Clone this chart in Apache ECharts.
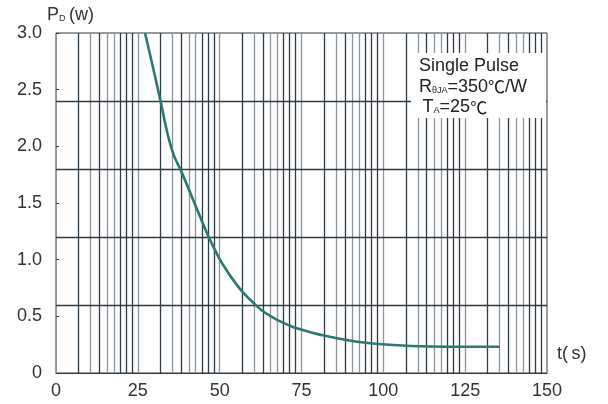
<!DOCTYPE html>
<html>
<head>
<meta charset="utf-8">
<script src="https://cdn.jsdelivr.net/npm/echarts@6/dist/echarts.min.js"></script>
<style>html,body{margin:0;padding:0;background:#fff}#c{width:608px;height:404px}</style>
</head>
<body>
<div id="c"></div>
<script>
// Curve: pulse power P_D (W) versus pulse time t (s)
const timeS = [27.2, 29.6, 32.0, 34.0, 36.0, 38.1, 41.45, 44.0, 46.5, 49.9, 51.8, 53.8, 57.0, 60.8, 63.0, 65.4, 68.5, 72.0, 76.5, 81.9, 91.9, 103, 114.2, 125.5, 135.6];
const powerW = [3.0, 2.70, 2.39, 2.12, 1.92, 1.79, 1.56, 1.38, 1.21, 1.01, 0.92, 0.835, 0.715, 0.605, 0.55, 0.505, 0.455, 0.41, 0.37, 0.33, 0.276, 0.247, 0.234, 0.232, 0.232];

// Axis ticks
const xTicks = [0, 25, 50, 75, 100, 125, 150];
const yTicks = [0, 0.5, 1.0, 1.5, 2.0, 2.5, 3.0];

// Chart-paper grid (in data units)
const hGridLines = [0.6, 1.2, 1.8, 2.4];
const segmentStarts = [0, 25, 50, 75, 100, 125];
const segmentOffsets = [6.87, 10.54, 13.23, 15.58, 17.66, 19.55, 21.39, 23.22];
const offsetShade = ['d', 'g', 'd', 'g', 'g', 'd', 'd', 'd'];

const DARK = '#2e3b45';
const GRAY = '#8d949a';

const vLines = [];
segmentStarts.forEach(function (s) {
  segmentOffsets.forEach(function (o, i) {
    vLines.push({ xAxis: s + o, lineStyle: { color: offsetShade[i] === 'd' ? DARK : GRAY } });
  });
  if (s > 0) vLines.push({ xAxis: s, lineStyle: { color: GRAY } });
});
const hLines = hGridLines.map(function (v) { return { yAxis: v, lineStyle: { color: DARK } }; });

const chart = echarts.init(document.getElementById('c'), null, { renderer: 'canvas' });
const FONT = 'Liberation Sans, Arial, sans-serif';
const CJK = 'Noto Sans CJK SC, sans-serif';

chart.setOption({
  animation: false,
  backgroundColor: '#fff',
  grid: { left: 56, right: 61, top: 33, bottom: 31, show: true, borderColor: DARK, borderWidth: 1, backgroundColor: 'transparent' },
  xAxis: {
    type: 'value', min: xTicks[0], max: xTicks[xTicks.length - 1], interval: 25,
    axisLine: { show: true, lineStyle: { color: DARK, width: 1 } },
    axisTick: { show: false },
    splitLine: { show: false },
    axisLabel: { color: '#333', fontSize: 18, fontFamily: FONT, margin: 9 }
  },
  yAxis: {
    type: 'value', min: yTicks[0], max: yTicks[yTicks.length - 1], interval: 0.5,
    axisLine: { show: true, lineStyle: { color: '#8d949a', width: 1 } },
    axisTick: { show: true, inside: true, length: 3, lineStyle: { color: DARK } },
    splitLine: { show: false },
    axisLabel: {
      color: '#333', fontSize: 18, fontFamily: FONT, margin: 14,
      formatter: function (v) { return v === 0 ? '0' : v.toFixed(1); }
    }
  },
  graphic: [
    {
      type: 'text', left: 47, top: 6, z: 20,
      style: {
        text: 'P{s|D}\u2009(w)', fill: '#333', font: '18px ' + FONT,
        rich: { s: { fontSize: 9, fontFamily: FONT, fill: '#333', padding: [7, 0, 0, 0] } }
      }
    },
    {
      type: 'text', left: 557, top: 345, z: 20,
      style: { text: 't(\u2009s)', fill: '#333', font: '18px ' + FONT }
    },
    {
      type: 'rect', z: 15, shape: { x: 411, y: 53, width: 135, height: 65 },
      style: { fill: '#fff' }
    },
    {
      type: 'text', left: 419, top: 56, z: 20,
      style: {
        text: 'Single Pulse\nR{s|\u03b8JA}=350{c|\u2103}/W\n\u2009T{s|A}=25{c|\u2103}',
        fill: '#222', font: '18px ' + FONT, lineHeight: 20.5,
        rich: {
          s: { fontSize: 9, fontFamily: FONT, fill: '#222', padding: [7, 0, 0, 0], lineHeight: 20.5 },
          c: { fontSize: 17, fontFamily: CJK, fill: '#222', lineHeight: 20.5 }
        }
      }
    }
  ],
  series: [
    {
      type: 'line', data: [], silent: true, z: 1,
      markLine: {
        silent: true, symbol: ['none', 'none'], animation: false,
        label: { show: false },
        lineStyle: { type: 'solid', width: 1.3 },
        data: vLines.concat(hLines)
      }
    },
    {
      type: 'line', z: 5,
      data: timeS.map(function (t, i) { return [t, powerW[i]]; }),
      smooth: 0.35, showSymbol: false,
      lineStyle: { color: '#2d7870', width: 2.6 }
    }
  ]
});
</script>
</body>
</html>
